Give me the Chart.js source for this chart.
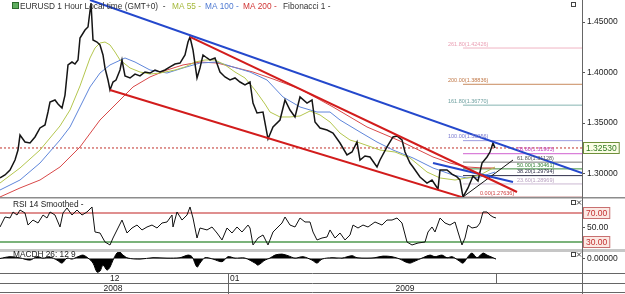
<!DOCTYPE html>
<html>
<head>
<meta charset="utf-8">
<title>EURUSD 1 Hour</title>
<script src="https://cdn.jsdelivr.net/npm/chart.js@4.4.1/dist/chart.umd.min.js"></script>
<style>
  html, body { margin: 0; padding: 0; background: #ffffff; }
  canvas { display: block; }
</style>
</head>
<body>
<canvas id="fxChart" width="625" height="294"></canvas>
<script>
// bar number (hourly bars from the left edge) and close price
var priceBars = [0,5,10,15,18,20,25,30,35,40,45,48,50,55,58,62,65,68,72,75,78,80,85,88,91,93,97,100,103,105,108,110,113,116,120,122,125,130,135,140,145,150,155,160,165,170,175,180,185,188,190,193,197,200,203,207,210,215,220,225,230,235,240,245,250,253,257,263,268,273,280,285,290,295,300,307,312,315,320,327,333,340,347,352,357,360,365,370,377,380,387,393,397,402,405,410,413,420,427,432,438,440,447,452,457,460,463,468,473,478,482,487,490,493,495];
var priceClose = [1.2956,1.2986,1.3035,1.3134,1.3233,1.3381,1.3312,1.3302,1.3362,1.3451,1.3481,1.3609,1.3708,1.3728,1.3688,1.3649,1.3777,1.4075,1.4104,1.4084,1.4124,1.4342,1.4421,1.4451,1.4688,1.4322,1.4302,1.4273,1.4174,1.4045,1.3926,1.3827,1.3906,1.3926,1.4025,1.4124,1.3966,1.3946,1.3985,1.3966,1.4005,1.3995,1.4025,1.4005,1.4025,1.4055,1.4084,1.4094,1.4174,1.4302,1.4352,1.4223,1.3946,1.4045,1.4174,1.4144,1.4124,1.4144,1.4005,1.3956,1.3926,1.3946,1.3906,1.3877,1.3906,1.3698,1.3599,1.3609,1.3342,1.3461,1.3530,1.3728,1.3629,1.3560,1.3758,1.3698,1.3728,1.3510,1.3451,1.3431,1.3401,1.3302,1.3184,1.3213,1.3312,1.3134,1.3174,1.3164,1.3065,1.3134,1.3263,1.3362,1.3372,1.3332,1.3213,1.3104,1.3065,1.2966,1.2906,1.2936,1.2847,1.3035,1.3035,1.2995,1.2966,1.2936,1.2768,1.2857,1.2976,1.2926,1.3104,1.3164,1.3213,1.3302,1.3253];

// moving averages
var ma55Bars = [0,20,40,60,70,80,90,95,100,105,110,115,120,130,140,150,160,175,185,195,205,215,225,235,245,255,265,270,280,290,300,310,320,330,340,350,360,380,395,410,427,440,455,467,480,495];
var ma55 = [1.2906,1.3055,1.3233,1.3471,1.3629,1.3867,1.4144,1.4243,1.4292,1.4302,1.4273,1.4203,1.4124,1.4045,1.4005,1.3985,1.3995,1.4025,1.4055,1.4104,1.4124,1.4124,1.4075,1.4005,1.3946,1.3827,1.3688,1.3609,1.3560,1.3560,1.3570,1.3619,1.3580,1.3510,1.3401,1.3332,1.3302,1.3233,1.3213,1.3154,1.3015,1.2956,1.2936,1.2956,1.2985,1.3065];
var ma100Bars = [0,20,40,60,70,80,90,100,110,125,135,150,167,183,200,217,233,250,267,283,300,317,330,340,360,377,393,413,433,453,467,480,495];
var ma100 = [1.2837,1.2936,1.3104,1.3332,1.3461,1.3659,1.3857,1.3995,1.4075,1.4144,1.4104,1.4025,1.3995,1.4045,1.4094,1.4104,1.4055,1.4005,1.3926,1.3758,1.3659,1.3609,1.3609,1.3530,1.3411,1.3312,1.3233,1.3154,1.3055,1.2985,1.2956,1.2966,1.3015];
var ma200Bars = [0,20,40,60,80,100,110,120,133,150,167,183,200,217,233,253,273,300,333,367,400,433,450,467,483,495];
var ma200 = [1.2768,1.2857,1.2936,1.3065,1.3263,1.3530,1.3629,1.3728,1.3857,1.3956,1.4025,1.4075,1.4104,1.4094,1.4055,1.4005,1.3936,1.3837,1.3659,1.3461,1.3322,1.3164,1.3104,1.3065,1.3055,1.3055];

// hand drawn trend lines (two end points each)
var blueTrendBars = [90, 582];
var blueTrend = [1.4718, 1.3005];
var redUpperBars = [190, 517];
var redUpper = [1.4352, 1.2817];
var redLowerBars = [110, 462];
var redLower = [1.3827, 1.2766];
var blueShortBars = [433, 513];
var blueShort = [1.3104, 1.2916];
var blackRiseBars = [463, 513];
var blackRise = [1.2768, 1.3134];

var lastPrice = 1.3253;

// fibonacci retracement from the swing low
var fibLevels = [261.8, 200, 161.8, 100, 78.6, 61.8, 50, 38.2, 23.6, 0];
var fibPrices = [1.42426, 1.38836, 1.36770, 1.33256, 1.31963, 1.31128, 1.30461, 1.29794, 1.28969, 1.27636];
var fibStartBar = 463;
var fibEndBar = 582;

// RSI 14 smoothed
var rsiBars = [0,5,10,13,17,20,25,28,33,38,43,47,50,55,60,63,67,72,77,82,87,92,95,100,105,110,113,118,122,127,132,137,142,147,152,157,162,167,172,173,177,182,187,190,193,197,200,207,212,217,222,227,232,237,242,248,250,253,258,263,268,273,277,282,285,290,295,300,305,310,313,317,322,327,330,335,340,345,350,353,358,363,368,375,382,387,392,397,402,407,412,418,425,428,432,435,440,445,450,455,458,462,465,468,472,477,480,483,487,490,493,496];
var rsiValues = [50.7,64.5,63.1,71.4,67.2,74.1,70,53.4,60.3,56.2,67.2,63.1,71.4,67.2,50.7,70,76.9,67.2,74.1,67.2,71.4,78.3,43.8,42.4,30,25.9,35.5,49.3,60.3,42.4,49.3,53.4,46.6,50.7,53.4,49.3,56.2,57.6,67.2,50.7,71.4,60.3,67.2,78.3,63.1,35.5,49.3,46.6,50.7,42.4,32.8,49.3,42.4,50.7,43.8,53.4,49.3,25.9,35.5,39.7,25.9,43.8,49.3,56.2,64.5,53.4,50.7,63.1,57.6,57.6,43.8,32.8,35.5,36.9,46.6,35.5,42.4,32.8,39.7,53.4,49.3,53.4,50.7,57.6,53.4,60.3,60.3,63.1,56.2,30,25.9,28.6,30,43.8,50.7,43.8,63.1,56.2,53.4,57.6,43.8,25.9,35.5,53.4,49.3,50.7,56.2,71.4,71.4,67.2,64.5,63.1];
var rsiHigh = 70;
var rsiLow = 30;

// MACD histogram
var macdBars = [0,10,20,30,37,43,50,57,62,67,72,78,83,88,93,97,100,103,107,110,113,117,120,123,128,140,153,167,180,188,192,197,200,205,213,222,228,235,245,255,258,265,270,275,282,288,295,303,312,317,322,332,342,352,357,367,375,383,392,400,405,410,415,422,430,435,442,447,452,458,463,468,472,477,483,487,493,496];
var macdValues = [0,0.0009,0.0003,-0.0008,0.0009,0.0002,0.0007,-0.0008,-0.0023,0.0002,-0.0003,0.0009,0.0017,0.0002,-0.0023,-0.0068,-0.0063,-0.0033,-0.0058,-0.0043,-0.0008,0.0028,0.0032,0.0017,0.0002,-0.0003,0.0004,0.0002,0.0004,0.0017,0.0009,-0.0043,-0.0023,0.0004,-0.0003,-0.0016,0.0009,0.0002,0.0002,-0.0023,-0.0033,-0.0008,0.0002,0.0017,0.0022,0.0014,0.0002,0.0009,-0.0008,-0.0023,-0.0003,0.0004,0.0002,0.0014,0.0004,0.0002,0.0004,0.0012,0.0009,-0.0003,-0.0016,-0.0023,-0.0013,0.0002,0.0017,0.0009,0.0017,0.0004,0.0009,-0.0008,-0.0023,0.0009,0.0027,0.0004,0.0027,0.0017,0.0004,-0.0003];

// axis ticks
var priceTicks = [1.30, 1.35, 1.40, 1.45];
var rsiTicks = [50];
var macdTicks = [0];
var monthTickBars = [110, 230];
var monthTickLabels = ['12', '01'];
var yearTickBars = [113, 405];
var yearTickLabels = ['2008', '2009'];
var monthDividers = [228, 496];

var FONT = "'Liberation Sans', Arial, sans-serif";
Chart.defaults.font.family = FONT;

function pts(xs, ys) {
    return xs.map(function (x, i) { return { x: x, y: ys[i] }; });
}

function line(label, data, color, width, axis) {
    return {
        label: label,
        data: data,
        yAxisID: axis || 'y',
        borderColor: color,
        borderWidth: width,
        pointRadius: 0,
        fill: false,
        tension: 0
    };
}

var fibColors = ['#f0b4c4', '#c98a5e', '#86b4b2', '#9c9ce0', '#d060d0', '#7a7a7a', '#3f8f3f', '#2e2e48', '#cbb8d2', '#8b1e1e'];
var fibTextColors = ['#eaa0b4', '#c07848', '#6fa0a0', '#7c7cd0', '#c040c0', '#555555', '#2f7f2f', '#2e2e48', '#b8a0c0', '#d04040'];
var fibTextBars = [448, 448, 448, 448, 517, 517, 517, 517, 517, 480];

var datasets = [];
// trend lines on top
datasets.push(line('blue trend', pts(blueTrendBars, blueTrend), '#2448cc', 2));
datasets.push(line('red upper', pts(redUpperBars, redUpper), '#d21c1c', 2));
datasets.push(line('red lower', pts(redLowerBars, redLower), '#d21c1c', 2));
datasets.push(line('blue short', pts(blueShortBars, blueShort), '#2448cc', 2));
datasets.push(line('rise', pts(blackRiseBars, blackRise), '#111111', 1));
// price and averages
datasets.push(line('EURUSD', pts(priceBars, priceClose), '#151515', 1.5));
datasets.push(line('MA 55', pts(ma55Bars, ma55), '#b4c64e', 1));
datasets.push(line('MA 100', pts(ma100Bars, ma100), '#5f86da', 1));
datasets.push(line('MA 200', pts(ma200Bars, ma200), '#d84848', 1));
// current price
var lastLine = line('last', [{ x: 0, y: lastPrice }, { x: fibEndBar, y: lastPrice }], '#c0302a', 1);
lastLine.borderDash = [2, 2];
datasets.push(lastLine);
// fibonacci levels
fibPrices.forEach(function (p, i) {
    datasets.push(line('fib ' + fibLevels[i], [{ x: fibStartBar, y: p }, { x: fibEndBar, y: p }], fibColors[i], i === 9 ? 1.5 : 1));
});
// RSI panel
datasets.push(line('RSI', pts(rsiBars, rsiValues), '#111111', 1, 'rsi'));
datasets.push(line('RSI 70', [{ x: 0, y: rsiHigh }, { x: fibEndBar, y: rsiHigh }], '#d46a6a', 1.5, 'rsi'));
datasets.push(line('RSI 30', [{ x: 0, y: rsiLow }, { x: fibEndBar, y: rsiLow }], '#4f9a4f', 1.5, 'rsi'));
// MACD histogram
var macdSet = line('MACDH', pts(macdBars, macdValues), '#000000', 1, 'macd');
macdSet.fill = 'origin';
macdSet.backgroundColor = '#000000';
macdSet.tension = 0.3;
datasets.push(macdSet);

function setTicks(values) {
    return function (scale) {
        scale.ticks = values.map(function (v) { return { value: v }; });
    };
}
function fixWidth(scale) {
    scale.width = 43;
    scale.paddingTop = 0;
    scale.paddingBottom = 0;
}
function fixHeight(h) {
    return function (scale) {
        scale.height = h;
        scale.paddingLeft = 0;
        scale.paddingRight = 0;
    };
}

var tickFont = { size: 8.5, family: FONT };

function priceAxis(opts) {
    var base = {
        type: 'linear',
        axis: 'y',
        position: 'right',
        stack: 'panels',
        grid: { display: true, drawOnChartArea: false, drawTicks: true, tickLength: 3, color: '#555555' },
        border: { display: true, color: '#555555' },
        ticks: { padding: 2, color: '#222222', font: tickFont, autoSkip: false },
        afterFit: fixWidth
    };
    return Object.assign(base, opts);
}

function timeAxis(opts) {
    var base = {
        type: 'linear',
        position: 'bottom',
        min: 0,
        max: 582,
        grid: { display: false },
        border: { display: false },
        ticks: { display: false }
    };
    return Object.assign(base, opts);
}

// frames, title, tags, time labels and the small fibonacci captions
var decor = {
    id: 'decor',
    afterDraw: function (chart) {
        var ctx = chart.ctx;
        var sx = chart.scales.x, sx2 = chart.scales.x2;
        var sy = chart.scales.y, sr = chart.scales.rsi, sm = chart.scales.macd;
        var W = chart.width, H = chart.height;
        ctx.save();

        // panel separators
        ctx.fillStyle = '#8c8c8c';
        ctx.fillRect(0, sy.bottom - 1, W, 1.5);
        ctx.fillStyle = '#c6c6c6';
        ctx.fillRect(0, sr.bottom - 1, W, 3);

        ctx.strokeStyle = '#666666';
        ctx.lineWidth = 1;
        function h(y) { ctx.beginPath(); ctx.moveTo(0, y); ctx.lineTo(W, y); ctx.stroke(); }
        function v(x, y0, y1) { ctx.beginPath(); ctx.moveTo(x, y0); ctx.lineTo(x, y1); ctx.stroke(); }
        h(Math.round(sx.top) + 0.5);
        h(Math.round(sx2.top) + 0.5);
        h(H - 1.5);
        v(Math.round(sy.left) + 0.5, 0, H);
        v(Math.round(sx.getPixelForValue(monthDividers[0])) + 0.5, sx.top, H);
        v(Math.round(sx.getPixelForValue(monthDividers[1])) + 0.5, sx.top, sx2.top);

        // time axis labels, placed through the x scale
        ctx.font = '8.5px ' + FONT;
        ctx.fillStyle = '#222222';
        ctx.textBaseline = 'middle';
        ctx.textAlign = 'left';
        monthTickBars.forEach(function (b, i) {
            ctx.fillText(monthTickLabels[i], sx.getPixelForValue(b), (sx.top + sx.bottom) / 2 + 0.5);
        });
        ctx.textAlign = 'center';
        yearTickBars.forEach(function (b, i) {
            ctx.fillText(yearTickLabels[i], sx2.getPixelForValue(b), (sx2.top + sx2.bottom) / 2);
        });

        // fibonacci captions
        ctx.font = '5.5px ' + FONT;
        ctx.textAlign = 'left';
        ctx.textBaseline = 'bottom';
        fibPrices.forEach(function (p, i) {
            ctx.fillStyle = fibTextColors[i];
            ctx.fillText(fibLevels[i].toFixed(2) + '(' + p.toFixed(5) + ')',
                sx.getPixelForValue(fibTextBars[i]), sy.getPixelForValue(p) - 1);
        });

        // title line
        ctx.textBaseline = 'middle';
        ctx.font = '8.3px ' + FONT;
        var parts = [
            ['EURUSD 1 Hour Local time (GMT+0)  -', '#333333', 20],
            ['MA 55 -', '#a4b83a', 172],
            ['MA 100 -', '#4f7ad2', 205],
            ['MA 200 -', '#d03434', 243],
            ['Fibonacci 1 -', '#333333', 283]
        ];
        parts.forEach(function (p) {
            ctx.fillStyle = p[1];
            ctx.fillText(p[0], p[2], 7);
        });
        ctx.fillStyle = '#5fae5f';
        ctx.fillRect(13, 3, 5, 5);
        ctx.strokeStyle = '#2c6a2c';
        ctx.strokeRect(12.5, 2.5, 6, 6);

        // indicator captions
        ctx.fillStyle = '#222222';
        ctx.fillText('RSI 14 Smoothed -', 13, sr.top + 7);
        ctx.fillText('MACDH 26: 12 9', 13, sm.top + 5);

        // little window buttons
        ctx.strokeStyle = '#444444';
        ctx.strokeRect(571.5, 2.5, 4, 4);
        [sr, sm].forEach(function (s) {
            var t = Math.round(s.top) + 2.5;
            ctx.strokeRect(571.5, t, 4, 4);
            ctx.beginPath();
            ctx.moveTo(577, t); ctx.lineTo(581, t + 4);
            ctx.moveTo(581, t); ctx.lineTo(577, t + 4);
            ctx.stroke();
        });

        // boxed value tags on the right axis
        function tag(scale, value, text, color, fill, edge) {
            var py = Math.round(scale.getPixelForValue(value));
            ctx.font = '8.5px ' + FONT;
            var w = ctx.measureText(text).width + 5;
            var x0 = Math.round(scale.left) + 1.5;
            ctx.fillStyle = fill;
            ctx.fillRect(x0, py - 5.5, w, 11);
            ctx.strokeStyle = edge;
            ctx.strokeRect(x0, py - 5.5, w, 11);
            ctx.fillStyle = color;
            ctx.textAlign = 'left';
            ctx.textBaseline = 'middle';
            ctx.fillText(text, x0 + 2.5, py + 0.5);
        }
        tag(sy, lastPrice, lastPrice.toFixed(5), '#2f7a1f', '#fbfde6', '#6f8f3a');
        tag(sr, rsiHigh, rsiHigh.toFixed(2), '#c43030', '#fbe9e4', '#c87070');
        tag(sr, rsiLow, rsiLow.toFixed(2), '#c43030', '#fbe9e4', '#c87070');

        ctx.restore();
    }
};

var ctx = document.getElementById('fxChart').getContext('2d');
var fxChart = new Chart(ctx, {
    type: 'line',
    data: { datasets: datasets },
    options: {
        responsive: false,
        animation: false,
        layout: { padding: 0 },
        plugins: {
            legend: { display: false },
            tooltip: { enabled: false }
        },
        scales: {
            x: timeAxis({ weight: 1, afterFit: fixHeight(10) }),
            x2: timeAxis({ weight: 2, afterFit: fixHeight(11) }),
            y: priceAxis({
                weight: 1,
                stackWeight: 198,
                min: 1.27578,
                max: 1.4718,
                afterBuildTicks: setTicks(priceTicks),
                ticks: { padding: 2, color: '#222222', font: tickFont, autoSkip: false,
                    callback: function (v) { return v.toFixed(5); } }
            }),
            rsi: priceAxis({
                weight: 2,
                stackWeight: 52,
                min: 18.97,
                max: 90.69,
                afterBuildTicks: setTicks(rsiTicks),
                ticks: { padding: 2, color: '#222222', font: tickFont, autoSkip: false,
                    callback: function (v) { return v.toFixed(2); } }
            }),
            macd: priceAxis({
                weight: 3,
                stackWeight: 23,
                min: -0.00725,
                max: 0.00425,
                afterBuildTicks: setTicks(macdTicks),
                ticks: { padding: 2, color: '#222222', font: tickFont, autoSkip: false,
                    callback: function (v) { return v.toFixed(5); } }
            })
        }
    },
    plugins: [decor]
});
</script>
</body>
</html>
